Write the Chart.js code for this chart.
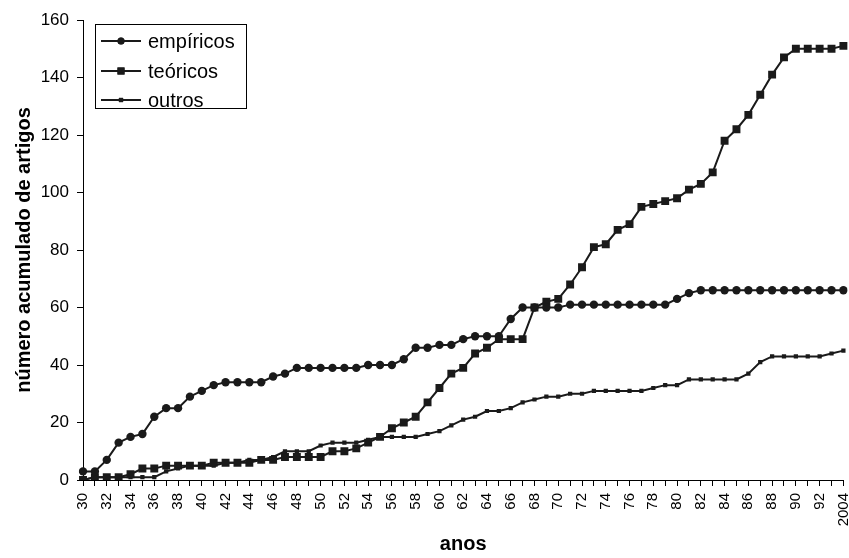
<!DOCTYPE html>
<html>
<head>
<meta charset="utf-8">
<script src="https://cdn.jsdelivr.net/npm/chart.js@4"></script>
<style>
html,body{margin:0;padding:0;background:#fff;}
#wrap{width:849px;height:558px;position:relative;}
</style>
</head>
<body>
<div id="wrap"><canvas id="c" width="849" height="558"></canvas></div>
<script>
const years = ['30','31','32','33','34','35','36','37','38','39',
  '40','41','42','43','44','45','46','47','48','49',
  '50','51','52','53','54','55','56','57','58','59',
  '60','61','62','63','64','65','66','67','68','69',
  '70','71','72','73','74','75','76','77','78','79',
  '80','81','82','83','84','85','86','87','88','89',
  '90','91','92','93','2004'];
const empiricos = [3,3,7,13,15,16,22,25,25,29,
  31,33,34,34,34,34,36,37,39,39,
  39,39,39,39,40,40,40,42,46,46,
  47,47,49,50,50,50,56,60,60,60,
  60,61,61,61,61,61,61,61,61,61,
  63,65,66,66,66,66,66,66,66,66,
  66,66,66,66,66];
const teoricos = [0,1,1,1,2,4,4,5,5,5,
  5,6,6,6,6,7,7,8,8,8,
  8,10,10,11,13,15,18,20,22,27,
  32,37,39,44,46,49,49,49,60,62,
  63,68,74,81,82,87,89,95,96,97,
  98,101,103,107,118,122,127,134,141,147,
  150,150,150,150,151];
const outros = [0,1,1,1,1,1,1,3,4,5,
  5,5,6,6,7,7,8,10,10,10,
  12,13,13,13,14,15,15,15,15,16,
  17,19,21,22,24,24,25,27,28,29,
  29,30,30,31,31,31,31,31,32,33,
  33,35,35,35,35,35,37,41,43,43,
  43,43,43,44,45];
const seriesNames = ['empíricos','teóricos','outros'];
const yTicks = [0,20,40,60,80,100,120,140,160];

const FONT = "'Liberation Sans', Arial, sans-serif";
const INK = '#1a1a1a';

const legendPlugin = {
  id: 'boxLegend',
  afterDraw(chart) {
    const ctx = chart.ctx;
    ctx.save();
    ctx.strokeStyle = '#000';
    ctx.lineWidth = 1;
    ctx.fillStyle = '#fff';
    ctx.fillRect(95.5, 24.5, 151, 84);
    ctx.strokeRect(95.5, 24.5, 151, 84);
    const ys = [41, 71, 100];
    chart.data.datasets.forEach((ds, i) => {
      const y = ys[i];
      ctx.strokeStyle = INK;
      ctx.lineWidth = 2;
      ctx.beginPath();
      ctx.moveTo(101, y);
      ctx.lineTo(141, y);
      ctx.stroke();
      ctx.fillStyle = INK;
      Chart.helpers.drawPoint(ctx, {pointStyle: ds.pointStyle, radius: ds.legendRadius, rotation: 0, borderWidth: 0}, 121, y);
      ctx.fill();
      ctx.fillStyle = '#000';
      ctx.font = '20px ' + FONT;
      ctx.textBaseline = 'middle';
      ctx.textAlign = 'left';
      ctx.fillText(ds.label, 148, y + 1);
    });
    ctx.restore();
  }
};

new Chart(document.getElementById('c'), {
  type: 'line',
  data: {
    labels: years,
    datasets: [
      {label: seriesNames[0], data: empiricos, borderColor: INK, backgroundColor: INK, borderWidth: 2,
       pointStyle: 'circle', pointRadius: 4.2, legendRadius: 3.5, pointBorderWidth: 0, tension: 0},
      {label: seriesNames[1], data: teoricos, borderColor: INK, backgroundColor: INK, borderWidth: 2,
       pointStyle: 'rect', pointRadius: 5.6, legendRadius: 5, pointBorderWidth: 0, tension: 0},
      {label: seriesNames[2], data: outros, borderColor: INK, backgroundColor: INK, borderWidth: 2,
       pointStyle: 'rect', pointRadius: 3, legendRadius: 3, pointBorderWidth: 0, tension: 0}
    ]
  },
  options: {
    responsive: false,
    animation: false,
    layout: {padding: {top: 20, right: 1, left: 0, bottom: 0}},
    plugins: {legend: {display: false}, tooltip: {enabled: false}},
    scales: {
      x: {
        type: 'category',
        offset: false,
        grid: {display: true, drawOnChartArea: false, drawTicks: true, tickLength: 6, color: '#000', lineWidth: 1},
        border: {display: true, color: '#000', width: 1},
        ticks: {
          autoSkip: false, maxRotation: 90, minRotation: 90, padding: 7,
          color: '#000', font: {family: FONT, size: 15},
          callback: function(v, i) { return i % 2 === 0 ? years[i] : ''; }
        },
        title: {display: true, text: 'anos', color: '#000', font: {family: FONT, size: 20, weight: 'bold'}, padding: {top: 0, bottom: 2}},
        afterFit(scale) { scale.height = 78; scale.paddingLeft = 0; scale.paddingRight = 0; }
      },
      y: {
        min: 0, max: 160,
        afterBuildTicks(scale) { scale.ticks = yTicks.map(v => ({value: v})); },
        grid: {display: true, drawOnChartArea: false, drawTicks: true, tickLength: 6, color: '#000', lineWidth: 1},
        border: {display: true, color: '#000', width: 1},
        ticks: {padding: 8, color: '#000', font: {family: FONT, size: 17}},
        title: {display: true, text: 'número acumulado de artigos', color: '#000', font: {family: FONT, size: 20, weight: 'bold'}, padding: {top: 12, bottom: 0}},
        afterFit(scale) { scale.width = 83; }
      }
    }
  },
  plugins: [legendPlugin]
});
</script>
</body>
</html>
